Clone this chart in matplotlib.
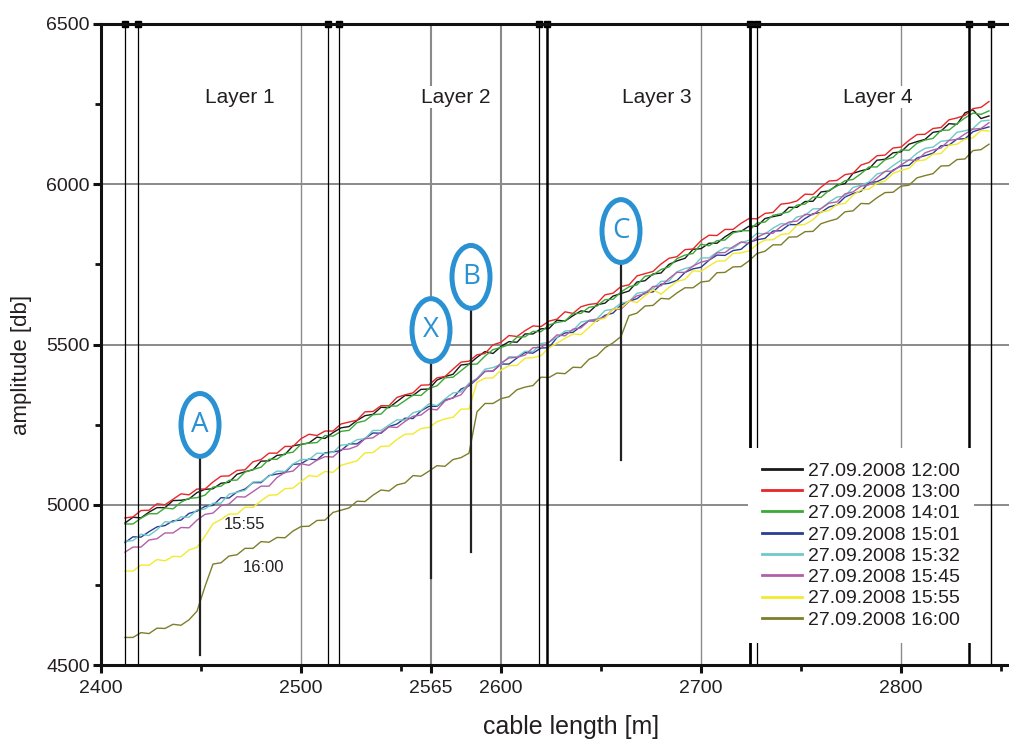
import matplotlib
matplotlib.use("Agg")
import matplotlib.pyplot as plt
from matplotlib.patches import Ellipse
import numpy as np

plt.rcParams['font.family'] = ['Liberation Sans', 'DejaVu Sans']

# sampling positions along the cable [m]
cable_m = np.arange(2412, 2845, 4)

amp_1200 = [4943, 4961, 4959, 4977, 4991, 4991, 5013, 5014, 5018, 5038,
            5048, 5050, 5067, 5070, 5095, 5103, 5109, 5136, 5137, 5154,
            5157, 5184, 5188, 5193, 5211, 5207, 5225, 5240, 5244, 5263,
            5278, 5282, 5304, 5303, 5322, 5341, 5341, 5360, 5361, 5389,
            5400, 5407, 5436, 5439, 5460, 5478, 5472, 5494, 5509, 5507,
            5533, 5533, 5549, 5550, 5576, 5573, 5590, 5605, 5601, 5624,
            5629, 5651, 5659, 5667, 5695, 5699, 5720, 5723, 5750, 5761,
            5769, 5797, 5799, 5816, 5816, 5836, 5852, 5853, 5869, 5869,
            5893, 5899, 5904, 5928, 5928, 5946, 5947, 5976, 5979, 5997,
            6002, 6034, 6042, 6048, 6075, 6078, 6098, 6101, 6125, 6133,
            6140, 6162, 6166, 6189, 6187, 6223, 6232, 6205, 6213]

amp_1300 = [4959, 4962, 4982, 4983, 5003, 5000, 5017, 5034, 5031, 5049,
            5049, 5071, 5089, 5090, 5107, 5109, 5134, 5141, 5161, 5161,
            5182, 5182, 5206, 5220, 5216, 5230, 5230, 5252, 5258, 5264,
            5290, 5291, 5309, 5309, 5335, 5343, 5349, 5373, 5374, 5396,
            5400, 5423, 5445, 5448, 5468, 5472, 5499, 5507, 5528, 5525,
            5543, 5558, 5556, 5573, 5579, 5602, 5597, 5618, 5625, 5628,
            5655, 5660, 5681, 5686, 5714, 5721, 5728, 5751, 5769, 5774,
            5796, 5798, 5824, 5841, 5840, 5859, 5859, 5878, 5893, 5892,
            5909, 5912, 5938, 5941, 5948, 5969, 5968, 5991, 6010, 6012,
            6030, 6034, 6060, 6068, 6089, 6091, 6113, 6116, 6137, 6155,
            6156, 6174, 6177, 6201, 6207, 6215, 6236, 6240, 6258]

amp_1401 = [4940, 4940, 4958, 4972, 4972, 4990, 4987, 5008, 5020, 5022,
            5030, 5055, 5058, 5076, 5077, 5102, 5110, 5117, 5142, 5142,
            5160, 5164, 5189, 5192, 5194, 5216, 5214, 5229, 5232, 5256,
            5262, 5281, 5283, 5308, 5308, 5325, 5342, 5341, 5363, 5371,
            5396, 5398, 5418, 5438, 5439, 5464, 5484, 5491, 5499, 5523,
            5524, 5541, 5540, 5561, 5569, 5573, 5597, 5597, 5616, 5620,
            5640, 5641, 5664, 5680, 5686, 5713, 5717, 5734, 5742, 5768,
            5779, 5784, 5813, 5808, 5824, 5826, 5848, 5855, 5855, 5879,
            5882, 5903, 5908, 5914, 5935, 5938, 5960, 5959, 5981, 5994,
            6011, 6015, 6033, 6054, 6054, 6076, 6084, 6107, 6106, 6128,
            6138, 6143, 6168, 6169, 6189, 6207, 6222, 6218, 6229]

amp_1501 = [4882, 4900, 4899, 4916, 4931, 4935, 4950, 4952, 4973, 4980,
            4995, 4998, 5022, 5021, 5040, 5049, 5069, 5069, 5091, 5096,
            5100, 5126, 5128, 5143, 5140, 5162, 5165, 5169, 5190, 5190,
            5207, 5224, 5223, 5244, 5252, 5270, 5269, 5293, 5307, 5307,
            5327, 5333, 5361, 5371, 5392, 5416, 5417, 5439, 5439, 5458,
            5475, 5473, 5489, 5490, 5522, 5536, 5538, 5557, 5574, 5573,
            5591, 5598, 5623, 5635, 5643, 5662, 5664, 5688, 5691, 5700,
            5725, 5736, 5741, 5763, 5779, 5778, 5793, 5797, 5818, 5827,
            5831, 5854, 5855, 5874, 5874, 5893, 5908, 5912, 5929, 5936,
            5960, 5971, 5978, 6005, 6008, 6020, 6044, 6057, 6059, 6082,
            6089, 6097, 6120, 6122, 6141, 6142, 6164, 6172, 6179]

amp_1532 = [4886, 4888, 4908, 4904, 4922, 4947, 4945, 4962, 4961, 4984,
            4987, 5005, 5005, 5033, 5039, 5045, 5071, 5072, 5089, 5105,
            5104, 5127, 5141, 5141, 5161, 5160, 5164, 5186, 5188, 5203,
            5206, 5232, 5232, 5249, 5265, 5264, 5287, 5294, 5315, 5309,
            5330, 5349, 5352, 5379, 5394, 5423, 5428, 5438, 5462, 5461,
            5479, 5478, 5503, 5507, 5523, 5542, 5544, 5570, 5575, 5580,
            5606, 5610, 5629, 5634, 5660, 5664, 5674, 5697, 5698, 5727,
            5737, 5743, 5770, 5770, 5788, 5802, 5800, 5818, 5825, 5847,
            5845, 5863, 5877, 5875, 5898, 5903, 5923, 5924, 5944, 5960,
            5963, 5990, 5997, 6007, 6032, 6039, 6058, 6075, 6075, 6097,
            6112, 6116, 6134, 6137, 6162, 6167, 6174, 6197, 6200]

amp_1545 = [4852, 4868, 4868, 4890, 4894, 4912, 4912, 4929, 4928, 4952,
            4970, 4974, 4997, 5002, 5025, 5024, 5041, 5058, 5058, 5085,
            5101, 5105, 5128, 5123, 5139, 5150, 5149, 5172, 5174, 5183,
            5206, 5209, 5226, 5243, 5241, 5260, 5276, 5280, 5299, 5296,
            5324, 5334, 5343, 5375, 5393, 5416, 5417, 5442, 5458, 5460,
            5467, 5490, 5491, 5507, 5530, 5527, 5548, 5552, 5575, 5578,
            5586, 5610, 5610, 5634, 5652, 5658, 5681, 5683, 5706, 5725,
            5725, 5745, 5757, 5763, 5786, 5787, 5805, 5820, 5815, 5834,
            5847, 5847, 5868, 5882, 5885, 5906, 5905, 5924, 5941, 5945,
            5970, 5976, 5994, 5998, 6020, 6040, 6041, 6060, 6076, 6074,
            6098, 6107, 6113, 6137, 6140, 6157, 6172, 6174, 6192]

amp_1555 = [4793, 4793, 4812, 4811, 4829, 4825, 4839, 4838, 4859, 4867,
            4902, 4941, 4954, 4971, 4971, 4992, 4992, 5012, 5030, 5031,
            5050, 5052, 5072, 5091, 5088, 5104, 5101, 5123, 5130, 5137,
            5162, 5163, 5182, 5183, 5204, 5220, 5221, 5238, 5241, 5259,
            5268, 5273, 5298, 5299, 5382, 5395, 5396, 5420, 5434, 5435,
            5457, 5459, 5465, 5490, 5504, 5519, 5533, 5531, 5553, 5576,
            5582, 5610, 5614, 5636, 5631, 5652, 5671, 5657, 5678, 5697,
            5703, 5730, 5728, 5745, 5760, 5761, 5784, 5786, 5792, 5812,
            5826, 5827, 5843, 5846, 5872, 5875, 5889, 5913, 5918, 5937,
            5940, 5966, 5982, 5985, 6003, 6010, 6034, 6043, 6050, 6073,
            6076, 6094, 6096, 6122, 6125, 6141, 6145, 6168, 6166]

amp_1600 = [4586, 4586, 4601, 4598, 4615, 4614, 4627, 4624, 4641, 4668,
            4745, 4815, 4819, 4840, 4844, 4864, 4864, 4885, 4883, 4898,
            4897, 4918, 4932, 4933, 4951, 4952, 4976, 4983, 4990, 5011,
            5010, 5030, 5046, 5043, 5062, 5068, 5091, 5089, 5105, 5122,
            5120, 5141, 5147, 5161, 5290, 5316, 5316, 5331, 5337, 5359,
            5367, 5372, 5398, 5397, 5411, 5409, 5429, 5428, 5454, 5465,
            5490, 5505, 5525, 5590, 5598, 5620, 5622, 5644, 5642, 5661,
            5677, 5677, 5695, 5698, 5724, 5725, 5742, 5743, 5761, 5784,
            5791, 5811, 5811, 5835, 5836, 5852, 5853, 5877, 5885, 5892,
            5914, 5917, 5940, 5939, 5958, 5974, 5975, 5994, 5997, 6020,
            6027, 6033, 6057, 6058, 6077, 6079, 6105, 6108, 6125]

series_labels = ["27.09.2008 12:00", "27.09.2008 13:00", "27.09.2008 14:01",
                 "27.09.2008 15:01", "27.09.2008 15:32", "27.09.2008 15:45",
                 "27.09.2008 15:55", "27.09.2008 16:00"]
series_values = [amp_1200, amp_1300, amp_1401, amp_1501,
                 amp_1532, amp_1545, amp_1555, amp_1600]
series_colors = ["#1a1a1a", "#e8262a", "#3aaa35", "#2b3d93",
                 "#6ec9c9", "#b35fa8", "#f2ea2e", "#7e7e2a"]

# layer boundaries [m] and their stroke widths
layer_bounds = [2411.8, 2418.3, 2513.3, 2519.2, 2619.2,
                2622.8, 2724.5, 2727.8, 2834.0, 2845.2]
layer_widths = [0.9, 0.9, 0.9, 0.9, 0.9, 1.8, 2.0, 0.9, 1.8, 1.0]
layer_names = ["Layer 1", "Layer 2", "Layer 3", "Layer 4"]
layer_name_x = [2469.5, 2577.5, 2678.0, 2788.5]

# marked events: letter, position, ellipse centre, vertical marker range
event_letters = ["A", "X", "B", "C"]
event_x = [2449.5, 2565.0, 2585.0, 2660.0]
event_circle_y = [5249, 5545, 5711, 5854]
event_line_top = [5150, 5446, 5610, 5756]
event_line_bottom = [4531, 4771, 4853, 5140]

x_major = [2400, 2500, 2565, 2600, 2700, 2800]
x_minor = [2450, 2550, 2650, 2750, 2850]
y_major = [4500, 5000, 5500, 6000, 6500]
y_minor = [4750, 5250, 5750, 6250]

text_col = "#231f20"
grid_col = "#8a8a8a"
mark_blue = "#2a92d2"

fig = plt.figure(figsize=(10.09, 7.40), dpi=100)
ax = fig.add_axes([101 / 1009, 75 / 740, 908 / 1009, 641 / 740])
ax.set_xlim(2400, 2854)
ax.set_ylim(4500, 6500)

# grid
for gx, gw in zip([2500, 2565, 2600, 2700, 2800], [1.0, 1.5, 1.5, 1.0, 1.0]):
    ax.axvline(gx, color=grid_col, lw=gw, zorder=1)
for gy in [5000, 5500, 6000]:
    ax.axhline(gy, color=grid_col, lw=1.4, zorder=1)

# measurement curves
for vals, col, lab in zip(series_values, series_colors, series_labels):
    ax.plot(cable_m, vals, color=col, lw=1.0, zorder=2, label=lab)

# layer boundaries with square caps on the top frame
for lx, lw in zip(layer_bounds, layer_widths):
    ax.plot([lx, lx], [4500, 6500], color="black", lw=lw, zorder=3,
            solid_capstyle="butt")
    ax.plot([lx], [6500], marker="s", ms=4.2, color="black", zorder=7,
            clip_on=False)

for name, nx in zip(layer_names, layer_name_x):
    ax.text(nx, 6272, name, ha="center", va="center", fontsize=15,
            color=text_col, zorder=5,
            bbox=dict(facecolor="white", edgecolor="none", pad=1.0))

# event markers
for letter, ex, cy, ly0, ly1 in zip(event_letters, event_x, event_circle_y,
                                    event_line_top, event_line_bottom):
    ax.plot([ex, ex], [ly0, ly1], color="#222222", lw=1.6, zorder=4)
    ax.add_patch(Ellipse((ex, cy), width=19.0, height=196,
                         facecolor="white", edgecolor=mark_blue, lw=3.6,
                         zorder=5))
    ax.text(ex, cy, letter, ha="center", va="center", fontsize=20,
            color=mark_blue, family=["Open Sans", "DejaVu Sans"], zorder=6)

ax.text(2461.5, 4937, "15:55", ha="left", va="center", fontsize=12,
        color=text_col, zorder=4)
ax.text(2471.0, 4803, "16:00", ha="left", va="center", fontsize=12,
        color=text_col, zorder=4)

# axes frame and ticks
for side in ["left", "bottom", "top"]:
    ax.spines[side].set_linewidth(2.2)
    ax.spines[side].set_color("#111111")
    ax.spines[side].set_zorder(8)
ax.spines["right"].set_visible(False)

ax.set_xticks(x_major)
ax.set_xticks(x_minor, minor=True)
ax.set_yticks(y_major)
ax.set_yticks(y_minor, minor=True)
ax.set_xticklabels([str(v) for v in x_major])
ax.set_yticklabels([str(v) for v in y_major])
ax.tick_params(which="major", direction="out", length=6, width=2.2,
               labelsize=14, labelcolor=text_col, color="#111111")
ax.tick_params(which="minor", direction="out", length=4.5, width=2.0,
               color="#111111")
ax.tick_params(axis="x", which="major", pad=5)
ax.tick_params(axis="y", which="major", pad=2)

fig.text(571 / 1009, 1 - 727 / 740, "cable length [m]", ha="center",
         va="center", fontsize=18, color=text_col)
fig.text(22 / 1009, 1 - 365 / 740, "amplitude [db]", ha="center",
         va="center", rotation=90, fontsize=16, color=text_col)

leg = ax.legend(loc="upper left", bbox_to_anchor=(0.7126, 0.3385),
                fontsize=14, frameon=True, fancybox=False, framealpha=1.0,
                handlelength=2.06, handletextpad=0.3, labelspacing=0.19,
                borderpad=0.72, borderaxespad=0.0)
leg.get_frame().set_edgecolor("none")
leg.get_frame().set_facecolor("white")
leg.set_zorder(9)
for line in leg.get_lines():
    line.set_linewidth(2.0)
for t in leg.get_texts():
    t.set_color(text_col)

fig.savefig("out.png", dpi=100)
